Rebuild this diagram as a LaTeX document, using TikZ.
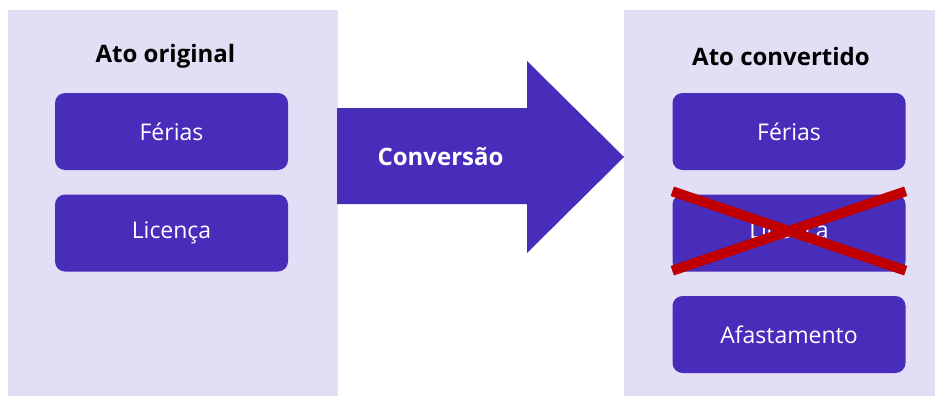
\documentclass[tikz,border=0pt]{standalone}
\usepackage{fontspec}
\setmainfont{Open Sans}
\definecolor{panelbg}{HTML}{E1DEF5}
\definecolor{boxfill}{HTML}{482DBB}
\definecolor{crossred}{HTML}{C00000}
\begin{document}
\begin{tikzpicture}[x=1pt,y=-1pt,
  panel/.style={fill=panelbg,draw=none},
  itembox/.style={fill=boxfill,draw=none,rounded corners=10pt,minimum width=233pt,minimum height=77pt,text=white,font=\fontsize{23}{26}\selectfont,inner sep=0pt},
  paneltitle/.style={font=\bfseries\fontsize{24}{28}\selectfont,text=black}]
\useasboundingbox (0,0) rectangle (941,396);
\fill[white] (0,0) rectangle (941,396);
\path[panel] (8,10) rectangle (338,396);
\path[panel] (624,10) rectangle (935,396);
% arrow
\fill[boxfill] (337,108) -- (527,108) -- (527,61) -- (624,157) -- (527,253) -- (527,204) -- (337,204) -- cycle;
\node[font=\bfseries\fontsize{24}{28}\selectfont,text=white] (conv) at (440.5,157) {Conversão};
% left
\node[paneltitle] (t1) at (165.5,56) {Ato original};
\node[itembox] (lf) at (171.5,131.5) {Férias};
\node[itembox] (ll) at (171.5,233) {Licença};
% right
\node[paneltitle] (t2) at (781,56) {Ato convertido};
\node[itembox] (rf) at (789,131.5) {Férias};
\node[itembox] (rl) at (789,233) {Licença};
\node[itembox] (ra) at (789,334.5) {Afastamento};
\draw[crossred,line width=10pt] ([yshift=3pt]rl.north west) -- ([yshift=1pt]rl.south east);
\draw[crossred,line width=10pt] ([yshift=1pt]rl.south west) -- ([yshift=3pt]rl.north east);
\end{tikzpicture}
\end{document}
